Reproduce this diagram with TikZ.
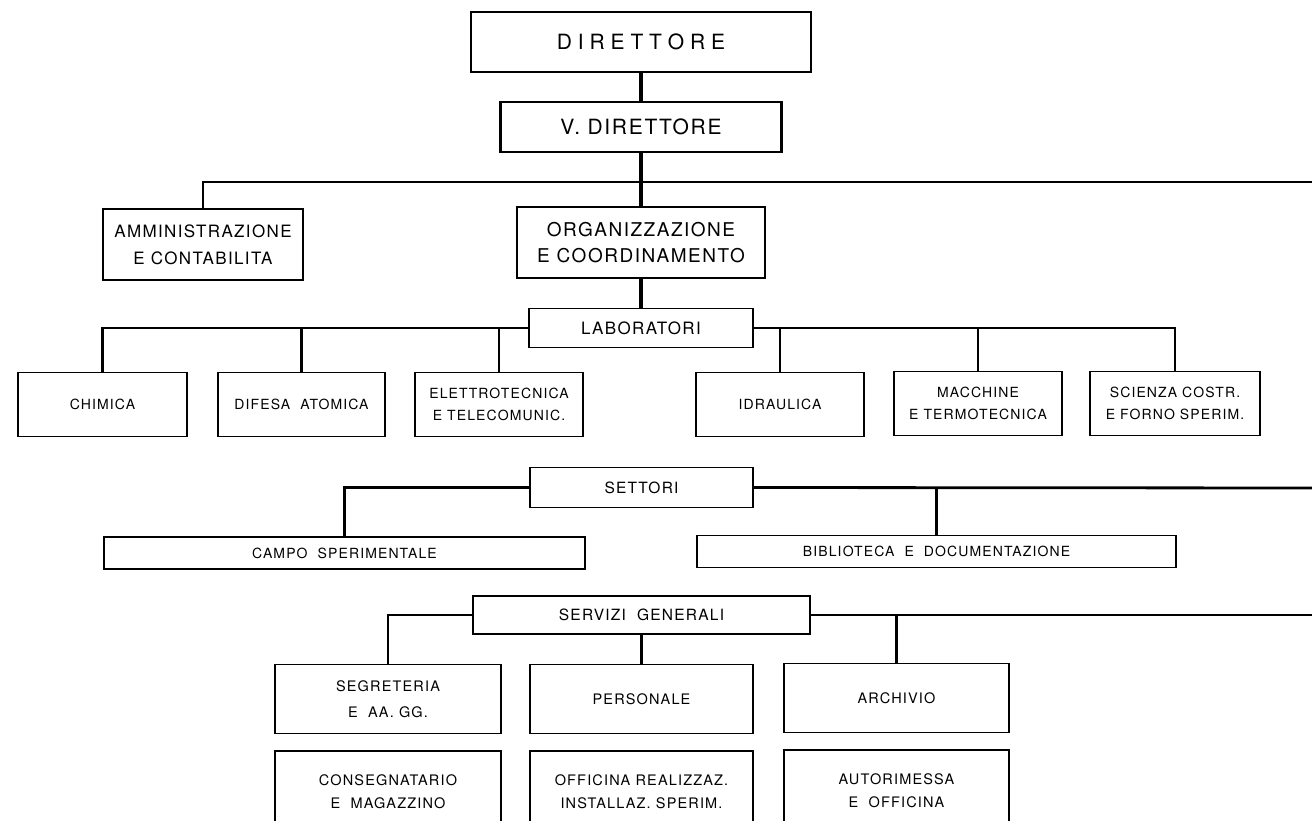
\documentclass[tikz,border=0pt]{standalone}
\usepackage{fontspec}
\setmainfont{TeX Gyre Heros}
\newfontfamily\lsfont[LetterSpace=8]{TeX Gyre Heros}
\newfontfamily\plainfont{TeX Gyre Heros}
\newcommand\setfsz[2]{\fontsize{#1}{#2}\selectfont}
\begin{document}
\begin{tikzpicture}[x=1pt,y=-1pt,
  bigbox/.style={draw, line width=2.2pt, inner sep=0pt, align=center},
  smallbox/.style={draw, line width=1.5pt, inner sep=0pt, align=center},
  conn/.style={line width=2.8pt},
  spine/.style={line width=3.6pt},
  labbox/.style={smallbox, minimum width=168pt, minimum height=64pt, font=\lsfont\setfsz{14}{22}},
  secbox/.style={smallbox, minimum height=32pt, font=\lsfont\setfsz{14}{18}},
  servbox/.style={smallbox, minimum height=69pt, font=\lsfont\setfsz{14.5}{26}},
  lowbox/.style={smallbox, minimum height=81pt, font=\lsfont\setfsz{14.5}{23}},
  headbox/.style={smallbox, line width=1.8pt, font=\lsfont\setfsz{15.5}{18}}
]
\useasboundingbox (0,0) rectangle (1312,820);
\clip (0,0) rectangle (1312,820);
\fill[white] (0,0) rectangle (1312,820);

% top
\node[bigbox, minimum width=340pt, minimum height=60pt, font=\plainfont\setfsz{21}{25}] (dir) at (641,42) {D I R E T T O R E};
\node[bigbox, minimum width=281pt, minimum height=50pt, font=\lsfont\setfsz{21}{25}] (vdir) at (641,127) {V. DIRETTORE};
\node[bigbox, minimum width=200pt, minimum height=71pt, font=\lsfont\setfsz{17}{27}] (amm) at (203,244.5) {AMMINISTRAZIONE\\E CONTABILITA};
\node[bigbox, line width=2.6pt, minimum width=248pt, minimum height=71pt, font=\lsfont\setfsz{19}{26}] (org) at (641,242.5) {ORGANIZZAZIONE\\E COORDINAMENTO};
\node[smallbox, line width=1.8pt, minimum width=224pt, minimum height=39pt, font=\lsfont\setfsz{17}{20}] (lab) at (641,328) {LABORATORI};

\coordinate (j1) at (641,182);
\coordinate (r1) at (1330,182);

% laboratori
\node[labbox, minimum width=169pt] (chim) at (102.5,404.5) {CHIMICA};
\node[labbox, minimum width=167pt] (dif) at (301.5,404.5) {DIFESA\ \ ATOMICA};
\node[labbox] (ele) at (499,404.5) {ELETTROTECNICA\\E TELECOMUNIC.};
\node[labbox] (idr) at (780,404.5) {IDRAULICA};
\node[labbox] (mac) at (978,403.5) {MACCHINE\\E TERMOTECNICA};
\node[labbox, minimum width=170pt] (sci) at (1175,403.5) {SCIENZA COSTR.\\E FORNO SPERIM.};

% settori
\node[headbox, minimum width=223pt, minimum height=40pt] (set) at (641.5,487.5) {SETTORI};
\node[secbox, minimum width=481pt] (campo) at (344.5,553) {CAMPO\ \ SPERIMENTALE};
\node[secbox, minimum width=479pt] (bib) at (936.5,551.5) {BIBLIOTECA\ \ E\ \ DOCUMENTAZIONE};
\coordinate (r2) at (1330,488);

% servizi
\node[headbox, minimum width=337pt, minimum height=38pt] (serv) at (641.5,615) {SERVIZI\ \ GENERALI};
\coordinate (r3) at (1330,615);
\node[servbox, minimum width=226pt] (seg) at (388,699) {SEGRETERIA\\E\ \ AA. GG.};
\node[servbox, minimum width=223pt] (pers) at (641.5,699) {PERSONALE};
\node[servbox, minimum width=225pt] (arch) at (896.5,698) {ARCHIVIO};
\node[lowbox, minimum width=226pt] (cons) at (388,791.5) {CONSEGNATARIO\\E\ \ MAGAZZINO};
\node[lowbox, minimum width=223pt] (off) at (641.5,791.5) {OFFICINA REALIZZAZ.\\INSTALLAZ. SPERIM.};
\node[lowbox, minimum width=225pt] (aut) at (896.5,790.5) {AUTORIMESSA\\E\ \ OFFICINA};

% connectors
\draw[spine] (dir.south) -- (vdir.north);
\draw[spine] (vdir.south) -- (org.north);
\draw[spine] (org.south) -- (lab.north);
\draw[conn] (amm.north) |- (j1) -- (r1);

\draw[conn] (lab.west) -| (chim.north);
\draw[conn] (dif.north) -- (dif.north |- lab.west);
\draw[conn] (ele.north) -- (ele.north |- lab.west);
\draw[conn] (lab.east) -| (sci.north);
\draw[conn] (idr.north) -- (idr.north |- lab.east);
\draw[conn] (mac.north) -- (mac.north |- lab.east);

\draw[conn] (set.west) -| (campo.north);
\draw[conn] (set.east) -- (r2);
\draw[conn] (bib.north) -- (bib.north |- set.east);

\draw[conn] (serv.west) -| (seg.north);
\draw[conn] (serv.east) -- (r3);
\draw[conn] (arch.north) -- (arch.north |- serv.east);
\draw[conn] (serv.south) -- (pers.north);
\end{tikzpicture}
\end{document}
